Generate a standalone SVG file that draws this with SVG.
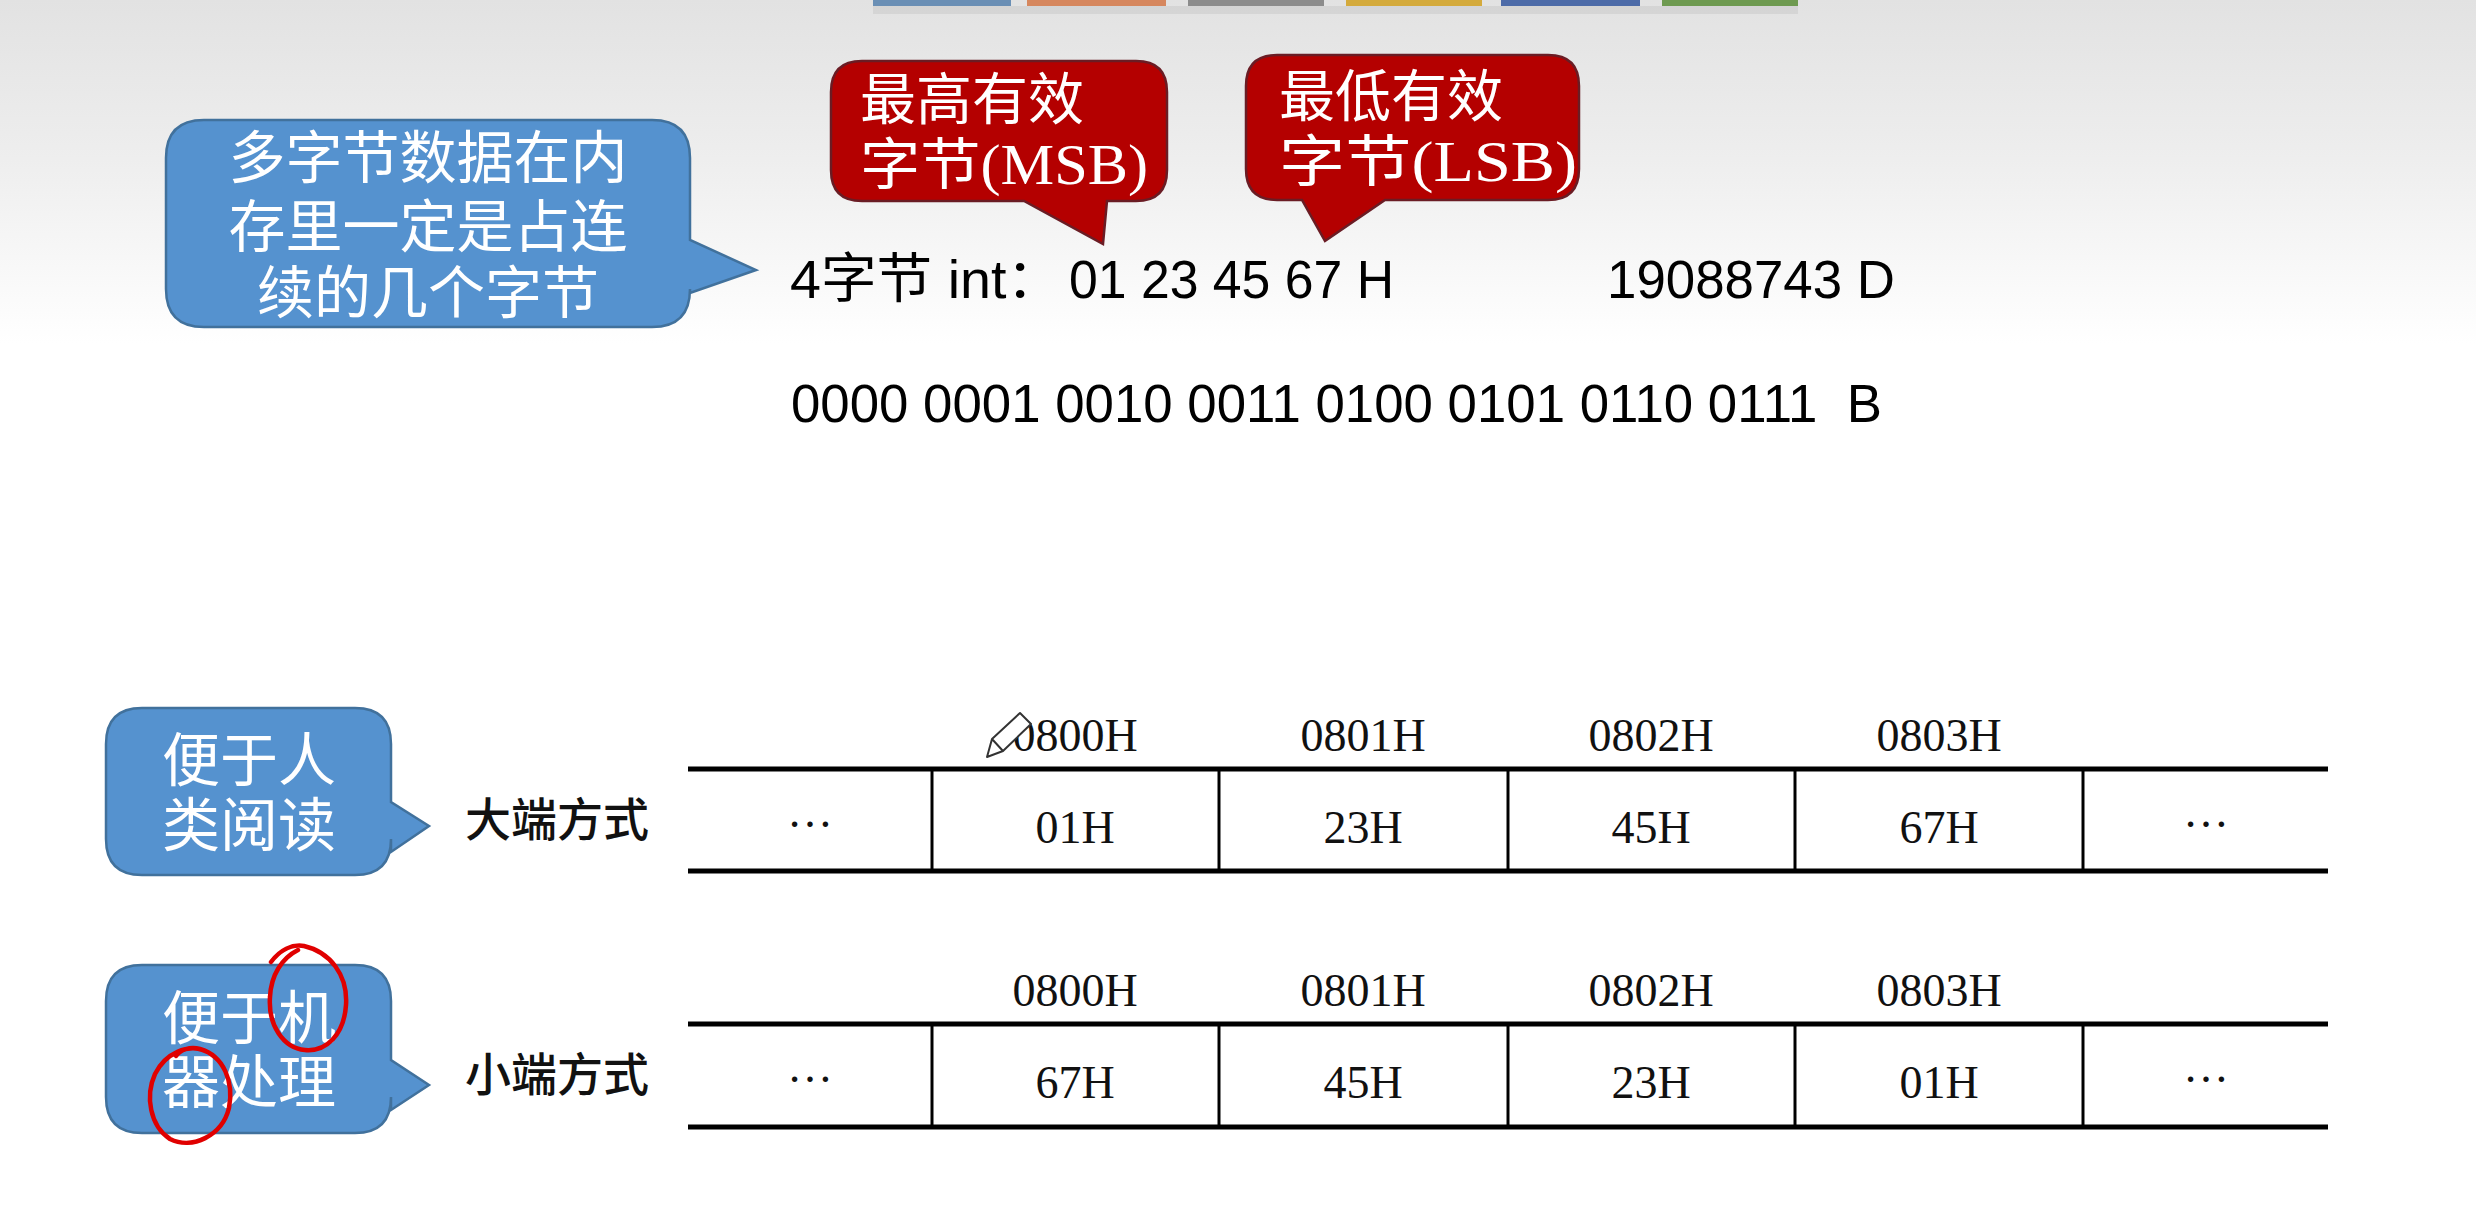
<svg xmlns="http://www.w3.org/2000/svg" width="2476" height="1226" viewBox="0 0 2476 1226">
<defs>
<linearGradient id="bg" x1="0" y1="0" x2="0" y2="1">
<stop offset="0" stop-color="#e2e2e2"/>
<stop offset="0.13" stop-color="#eeeeee"/>
<stop offset="0.28" stop-color="#ffffff"/>
<stop offset="1" stop-color="#ffffff"/>
</linearGradient>
<style>
.blue{fill:#5592cf;stroke:#41719c;stroke-width:2.5}
.red{fill:#b40000;stroke:#6a1c24;stroke-width:2.5}
.ct{font-family:"Noto Sans CJK SC","Noto Sans",sans-serif;font-size:57px;fill:#ffffff}
.rt{font-family:"Liberation Serif","Noto Sans CJK SC",serif;font-size:56px;fill:#ffffff}
.main{font-family:"Liberation Sans","Noto Sans CJK SC",sans-serif;font-size:54px;fill:#000000}
.lbl{font-family:"Noto Sans CJK SC",sans-serif;font-size:46px;font-weight:500;fill:#111111}
.tm{font-family:"Liberation Serif","Times New Roman",serif;font-size:46px;fill:#111111;text-anchor:middle}
.hl{stroke:#000;stroke-width:5;fill:none}
.vl{stroke:#000;stroke-width:3;fill:none}
.ink{stroke:#e00000;stroke-width:4.5;fill:none;stroke-linecap:round;stroke-linejoin:round}
</style>
</defs>
<rect x="0" y="0" width="2476" height="1226" fill="url(#bg)"/>
<g id="tabs">
<rect x="873" y="6" width="925" height="8" fill="#000" opacity="0.06"/>
<rect x="873" y="0" width="138" height="6" fill="#6a8fb5"/>
<rect x="1027" y="0" width="139" height="6" fill="#d6875e"/>
<rect x="1188" y="0" width="136" height="6" fill="#8c8c8c"/>
<rect x="1346" y="0" width="136" height="6" fill="#d4aa3c"/>
<rect x="1501" y="0" width="139" height="6" fill="#4d6ba8"/>
<rect x="1662" y="0" width="136" height="6" fill="#6e9a50"/>
</g>
<g id="connectors"/>
<g id="callout-multibyte">
<path class="blue" d="M204,120 H652 Q690,120 690,158 V240 L756,270 L690,293 V289 Q690,327 652,327 H204 Q166,327 166,289 V158 Q166,120 204,120 Z"/>
<text class="ct" x="428" y="178" text-anchor="middle">多字节数据在内</text>
<text class="ct" x="428" y="247" text-anchor="middle">存里一定是占连</text>
<text class="ct" x="428" y="313" text-anchor="middle">续的几个字节</text>
</g>
<g id="callout-msb">
<path class="red" d="M862,61 H1136 Q1167,61 1167,92 V170 Q1167,201 1136,201 H1107 L1103,244 L1024,201 H862 Q831,201 831,170 V92 Q831,61 862,61 Z"/>
<text class="rt" x="860" y="119">最高有效</text>
<text class="rt" x="860" y="184" textLength="288" lengthAdjust="spacingAndGlyphs">字节(MSB)</text>
</g>
<g id="callout-lsb">
<path class="red" d="M1277,55 H1548 Q1579,55 1579,86 V169 Q1579,200 1548,200 H1385 L1325,241 L1302,200 H1277 Q1246,200 1246,169 V86 Q1246,55 1277,55 Z"/>
<text class="rt" x="1279" y="116">最低有效</text>
<text class="rt" x="1279" y="181" textLength="298" lengthAdjust="spacingAndGlyphs">字节(LSB)</text>
</g>
<g id="text-int">
<text class="main" x="790" y="298" textLength="272" lengthAdjust="spacingAndGlyphs">4字节 int：</text>
<text class="main" x="1069" y="298" textLength="325" lengthAdjust="spacingAndGlyphs">01 23 45 67 H</text>
<text class="main" x="1607" y="298" textLength="288" lengthAdjust="spacingAndGlyphs">19088743 D</text>
</g>
<g id="text-binary">
<text class="main" x="791" y="422" xml:space="preserve" textLength="1091" lengthAdjust="spacingAndGlyphs">0000 0001 0010 0011 0100 0101 0110 0111  B</text>
</g>
<g id="callout-human">
<path class="blue" d="M142,708 H355 Q391,708 391,744 V802 L429,826 L391,852 V839 Q391,875 355,875 H142 Q106,875 106,839 V744 Q106,708 142,708 Z"/>
<text class="ct" x="249" y="781" text-anchor="middle" style="font-size:58px">便于人</text>
<text class="ct" x="249" y="846" text-anchor="middle" style="font-size:58px">类阅读</text>
</g>
<g id="callout-machine">
<path class="blue" d="M142,965 H355 Q391,965 391,1001 V1060 L429,1085 L391,1110 V1097 Q391,1133 355,1133 H142 Q106,1133 106,1097 V1001 Q106,965 142,965 Z"/>
<text class="ct" x="249" y="1039" text-anchor="middle" style="font-size:58px">便于机</text>
<text class="ct" x="249" y="1103" text-anchor="middle" style="font-size:58px">器处理</text>
</g>
<g id="label-big"><text class="lbl" x="465" y="836">大端方式</text></g>
<g id="label-little"><text class="lbl" x="465" y="1091">小端方式</text></g>
<g id="table-big">
<line class="hl" x1="688" y1="769" x2="2328" y2="769"/>
<line class="hl" x1="688" y1="871" x2="2328" y2="871"/>
<line class="vl" x1="932" y1="769" x2="932" y2="871"/>
<line class="vl" x1="1219" y1="769" x2="1219" y2="871"/>
<line class="vl" x1="1508" y1="769" x2="1508" y2="871"/>
<line class="vl" x1="1795" y1="769" x2="1795" y2="871"/>
<line class="vl" x1="2083" y1="769" x2="2083" y2="871"/>
<text class="tm" x="1075" y="751">0800H</text>
<text class="tm" x="1363" y="751">0801H</text>
<text class="tm" x="1651" y="751">0802H</text>
<text class="tm" x="1939" y="751">0803H</text>
<text class="tm" x="810" y="827">…</text>
<text class="tm" x="1075" y="843">01H</text>
<text class="tm" x="1363" y="843">23H</text>
<text class="tm" x="1651" y="843">45H</text>
<text class="tm" x="1939" y="843">67H</text>
<text class="tm" x="2206" y="827">…</text>
</g>
<g id="table-little">
<line class="hl" x1="688" y1="1024" x2="2328" y2="1024"/>
<line class="hl" x1="688" y1="1127" x2="2328" y2="1127"/>
<line class="vl" x1="932" y1="1024" x2="932" y2="1127"/>
<line class="vl" x1="1219" y1="1024" x2="1219" y2="1127"/>
<line class="vl" x1="1508" y1="1024" x2="1508" y2="1127"/>
<line class="vl" x1="1795" y1="1024" x2="1795" y2="1127"/>
<line class="vl" x1="2083" y1="1024" x2="2083" y2="1127"/>
<text class="tm" x="1075" y="1006">0800H</text>
<text class="tm" x="1363" y="1006">0801H</text>
<text class="tm" x="1651" y="1006">0802H</text>
<text class="tm" x="1939" y="1006">0803H</text>
<text class="tm" x="810" y="1082">…</text>
<text class="tm" x="1075" y="1098">67H</text>
<text class="tm" x="1363" y="1098">45H</text>
<text class="tm" x="1651" y="1098">23H</text>
<text class="tm" x="1939" y="1098">01H</text>
<text class="tm" x="2206" y="1082">…</text>
</g>
<g id="annotations">
<path d="M987,757 L992,739 L1020,713 L1031,724 L1003,751 Z M992,739 L1003,751" fill="#ffffff" stroke="#333" stroke-width="2" stroke-linejoin="round"/>
<path class="ink" d="M271,962 C280,950 292,944 304,946 C330,952 348,975 346,1005 C344,1035 326,1052 305,1050 C283,1048 268,1025 270,997 C271,975 282,958 298,950"/>
<path class="ink" d="M203,1050 C188,1045 166,1052 155,1074 C145,1096 150,1126 170,1139 C192,1150 222,1136 229,1108 C234,1082 224,1056 200,1049 C190,1046 180,1050 176,1056"/>
</g>
</svg>
